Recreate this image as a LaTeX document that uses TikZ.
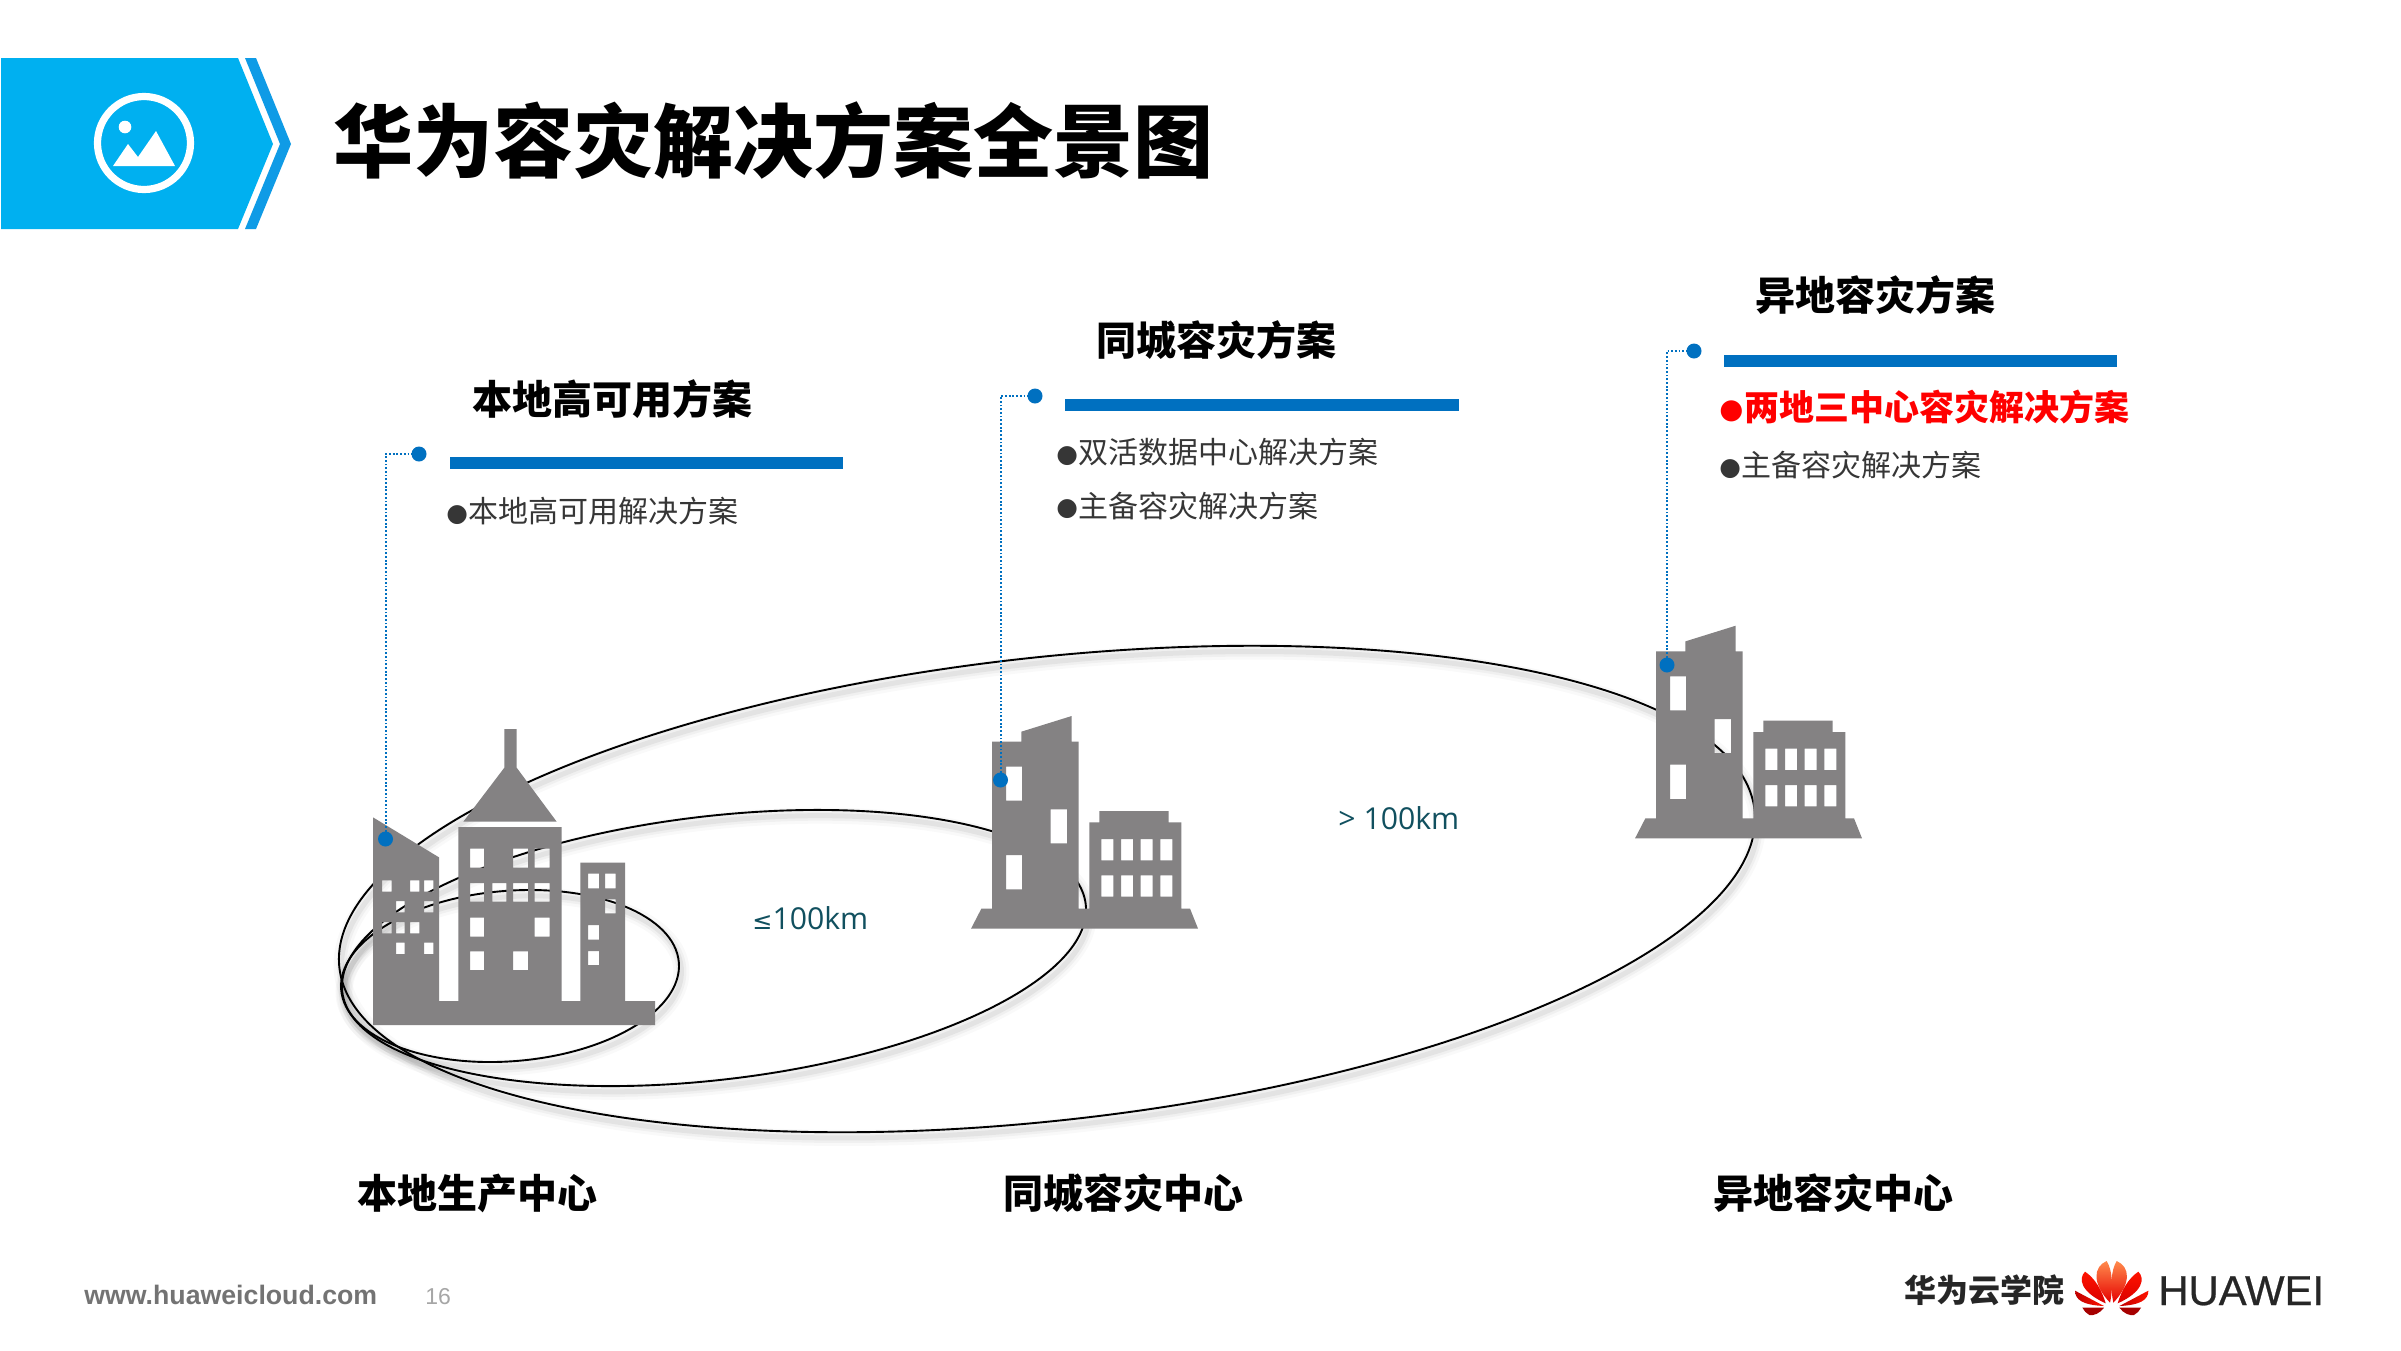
\documentclass[tikz,border=0pt]{standalone}
\usepackage{fontspec}
\setmainfont{Noto Sans CJK SC}
\newfontfamily\latinf{Open Sans}
\newfontfamily\logof[FakeBold=0.6]{Liberation Sans}
\newfontfamily\footf{Liberation Sans}
\newfontfamily\symf{DejaVu Sans}
\definecolor{banner}{HTML}{00B0F0}
\definecolor{chev}{HTML}{0F9BE6}
\definecolor{bargreen}{HTML}{0070C0}
\definecolor{bldgc}{HTML}{848283}
\definecolor{tealt}{HTML}{11505F}
\definecolor{bodyt}{HTML}{363636}
\newcommand\bul[1]{\makebox[#1][l]{\raisebox{.8pt}{\symf\fontsize{12.4}{14}\selectfont ●}}}
\newcommand\bulr[1]{\makebox[#1][l]{\raisebox{1pt}{\symf\fontsize{13.8}{14}\selectfont ●}}}
\tikzset{
  head/.style={font=\fontsize{20}{24}\selectfont\bfseries,text=black,inner sep=0pt,anchor=west},
  item/.style={font=\fontsize{15}{18}\selectfont,text=bodyt,inner sep=0pt,anchor=west},
  dist/.style={font=\latinf\fontsize{15.1}{18}\selectfont,text=tealt,inner sep=0pt,anchor=base west},
  dot/.style={circle,fill=bargreen,inner sep=0pt,minimum size=7.5pt},
  leader/.style={bargreen,line width=1pt,dash pattern=on .9pt off .95pt},
  bar/.style={fill=bargreen,draw=none},
  bldg/.style={fill=bldgc,even odd rule,draw=none},
  ring/.style={black,line width=.95pt},
}
\newcommand\halo[3]{%
  \foreach \w/\o in {8/.025,5/.035,2.5/.05}{
    \draw[black,opacity=\o,line width=\w pt,#1,shift={(2,6)}] #2 ellipse #3;}
}
\newcommand\towerbldg[2]{%
  \begin{scope}[shift={(#1,#2)},x=0.166667pt,y=-0.166667pt]
  \fill[bldg] (33,686)--(64,626)--(96,626)--(96,125)--(184,125)--(184,95)--(335,48)--(335,125)--(356,125)--(356,626)--(388,626)--(388,367)--(418,367)--(418,333)--(626,333)--(626,367)--(664,367)--(664,626)--(690,626)--(714,686)--cycle
   \foreach \a/\b/\c/\d in {138/200/186/302,272/328/321/430,138/465/186/568,
     424/417/460/481,483/417/519/481,542/417/578/481,601/417/637/481,
     424/526/460/590,483/526/519/590,542/526/578/590,601/526/637/590}{(\a,\b) rectangle (\c,\d)};
  \end{scope}}
\begin{document}
\begin{tikzpicture}[x=0.5pt,y=-0.5pt]
\useasboundingbox (0,0) rectangle (2401,1350);
\fill[white] (0,0) rectangle (2401,1350);
% banner
\fill[banner] (1,58)--(238,58)--(273,144)--(238,229)--(1,229)--cycle;
\fill[chev] (245,58)--(256,58)--(291,144)--(256,229)--(245,229)--(280,144)--cycle;
\draw[white,line width=3.6pt] (144,143) circle (46.5);
\fill[white] (125,127) circle (6.3);
\fill[white] (113,166)--(128,144)--(138,157)--(156,131)--(175,166)--cycle;
\node[anchor=west,inner sep=0pt,font=\fontsize{40}{48}\selectfont\bfseries,text=black] (title) at (333.5,141) {华为容灾解决方案全景图};
% ellipses
\halo{rotate around={6.35:(1047,889)}}{(1047,889)}{[x radius=712,y radius=231.5]}
\halo{rotate around={6.73:(714,948)}}{(714,948)}{[x radius=374.3,y radius=131.8]}
\halo{rotate around={4.6:(510,976)}}{(510,976)}{[x radius=169.4,y radius=85.2]}
\draw[ring,rotate around={6.35:(1047,889)}] (1047,889) ellipse [x radius=712,y radius=231.5];
\draw[ring,rotate around={6.73:(714,948)}] (714,948) ellipse [x radius=374.3,y radius=131.8];
\draw[ring,rotate around={4.6:(510,976)}] (510,976) ellipse [x radius=169.4,y radius=85.2];
% building 1
\begin{scope}[shift={(320,700)},x=0.166667pt,y=-0.166667pt]
\fill[bldg] (159,352)--(357,472)--(357,903)--(415,903)--(415,381)--(725,381)--(725,903)--(781,903)--(781,488)--(915,488)--(915,903)--(1005,903)--(1005,975)--(159,975)--cycle
 \foreach \a/\b/\c/\d in {186/541/215/575,270/541/298/575,312/541/340/575,228/603/254/637,312/603/340/637,186/666/215/700,228/666/254/700,270/666/298/700,228/728/254/762,312/728/340/762,
 450/446/492/503,579/446/624/503,644/446/689/503,450/549/492/605,517/549/559/605,579/549/624/605,644/549/689/605,450/653/492/710,644/653/689/710,450/754/492/810,579/754/624/810,
 804/521/837/565,855/521/887/565,855/598/887/640,804/675/837/719,804/753/837/795}{(\a,\b) rectangle (\c,\d)};
\fill[bldg] (430,365)--(710,365)--(590,203)--(590,87)--(553,87)--(553,203)--cycle;
\end{scope}
\towerbldg{960}{700}
\towerbldg{1624}{609.7}
% dots
\node[dot] (b1) at (385.5,839) {};
\node[dot] (b2) at (1000.5,780) {};
\node[dot] (b3) at (1667,665) {};
\node[dot] (t1) at (419,454) {};
\node[dot] (t2) at (1035,396) {};
\node[dot] (t3) at (1694,351) {};
\draw[leader] (b1.center) |- (t1.center);
\draw[leader] (b2.center) |- (t2.center);
\draw[leader] (b3.center) |- (t3.center);
% bars
\fill[bar] (450,457) rectangle (843,469);
\fill[bar] (1065,399) rectangle (1459,411);
\fill[bar] (1724,355) rectangle (2117,367);
% headings
\node[head] (h1) at (472.5,399) {本地高可用方案};
\node[head] (h2) at (1096,340) {同城容灾方案};
\node[head] (h3) at (1755,295.5) {异地容灾方案};
% items
\node[item] (i1) at (446,511.5) {\bul{11pt}本地高可用解决方案};
\node[item] (i2) at (1056,452.5) {\bul{11pt}双活数据中心解决方案};
\node[item] (i3) at (1056,506) {\bul{11pt}主备容灾解决方案};
\node[item,font=\fontsize{17.5}{21}\selectfont\bfseries,text=red] (i4) at (1719,407) {\bulr{12.5pt}两地三中心容灾解决方案};
\node[item] (i5) at (1719,465.5) {\bul{11pt}主备容灾解决方案};
% distances
\node[dist] (d1) at (752,929) {{\symf\fontsize{12}{13}\selectfont ≤}100km};
\node[dist] (d2) at (1338,829) {> 100km};
% bottom
\node[head] (c1) at (357,1193) {本地生产中心};
\node[head] (c2) at (1003,1193) {同城容灾中心};
\node[head] (c3) at (1713,1193) {异地容灾中心};
% footer
\node[anchor=base west,inner sep=0pt,font=\footf\fontsize{13.35}{15}\selectfont\bfseries,text=black!55] (web) at (84,1304) {www.huaweicloud.com};
\node[anchor=base west,inner sep=0pt,font=\footf\fontsize{11.5}{13}\selectfont,text=black!35] (pg) at (425,1304) {16};
\node[anchor=west,inner sep=0pt,font=\fontsize{16}{19}\selectfont\bfseries,text=black!85] (co) at (1904,1290) {华为云学院};
\node[anchor=base west,inner sep=0pt,font=\logof\fontsize{20.9}{23}\selectfont,text=black!85] (hw) at (2158,1305) {HUAWEI};
% logo petals
\begin{scope}[shift={(1880,1250)},x=0.166667pt,y=-0.166667pt]
\foreach \m/\sx in {0/1,1/-1}{
\begin{scope}[xshift=\m*695*2*0.166667pt,xscale=\sx]
\shade[top color=orange!70!red!70,bottom color=red!90!black] (680,33) .. controls (640,50) and (635,100) .. (690,158) .. controls (700,110) and (697,60) .. (680,33) -- cycle;
\shade[top color=red!85!orange,bottom color=red!85!black] (615,65) .. controls (595,85) and (600,125) .. (677,160) .. controls (665,120) and (645,85) .. (615,65) -- cycle;
\shade[left color=red!75!black,right color=red!85!orange] (585,122) .. controls (585,150) and (610,165) .. (672,168) -- cycle;
\fill[red!65!black] (607,173) -- (672,173) .. controls (660,190) and (640,198) .. (628,195) .. controls (618,190) and (612,182) .. (607,173) -- cycle;
\end{scope}}
\end{scope}
\end{tikzpicture}
\end{document}
